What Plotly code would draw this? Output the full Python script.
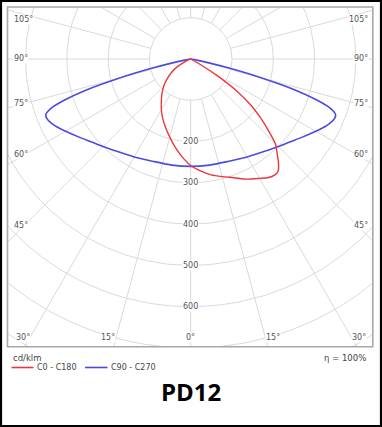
import numpy as np
import plotly.graph_objects as go

# ---------------- data (cd/klm) ----------------
# C0 - C180 plane: gamma in degrees, negative = left half, positive = right half
red_gamma = [-90, -75, -70, -65, -60, -55, -50, -45, -40, -35, -30, -25, -20, -15, -10, -5,
             0, 5, 10, 15, 20, 25, 30, 33, 36, 38, 40, 42.5, 45, 47.5, 50, 52.5, 55, 57.5, 60, 62.5, 90]
red_cd = [0, 0, 5, 16, 38, 57, 74, 92, 108, 124, 142, 160, 177, 196, 217, 238,
          258, 272, 285, 295, 306, 321, 334, 343, 347, 344, 331, 310, 290, 254, 220, 184, 140, 82, 28, 0, 0]

# C90 - C270 plane (symmetric): gamma 0..90 degrees
blue_gamma = [0, 10, 20, 30, 40, 45, 50, 55, 60, 62.5, 65, 67.5, 69, 70.5, 72, 73.5, 75, 76.5, 78, 80, 85, 90]
blue_cd = [260, 261, 264, 274, 289, 300, 313, 330, 350, 361, 371, 377, 376, 360, 320, 262, 180, 102, 45, 12, 0, 0]

ring_values = [100, 200, 300, 400, 500, 600, 700, 800]
ring_labels = [200, 300, 400, 500, 600]
spoke_angles = list(range(0, 360, 15))

left_angle_labels = ["105°", "90°", "75°", "60°", "45°", "30°"]
bottom_angle_labels = ["15°", "0°", "15°"]
series_names = ["C0 - C180", "C90 - C270"]
series_colors = ["#e8383d", "#4b4bdf"]

# ---------------- geometry ----------------
W, H = 382, 427
fx0, fx1, fy0, fy1 = 7.5, 372.8, 7.0, 346.8      # frame in pixels
cx, cy = 190.7, 59.0                              # polar centre in pixels
s = 0.4128                                        # px per cd/klm
xr = [-(cx - fx0) / s, (fx1 - cx) / s]
yr = [-(fy1 - cy) / s, (cy - fy0) / s]


def pol(g_deg, r):
    g = np.radians(np.asarray(g_deg, dtype=float))
    r = np.asarray(r, dtype=float)
    return r * np.sin(g), -r * np.cos(g)


def px(x, y):
    return x / W, 1 - y / H


fig = go.Figure()

# grid rings + spokes
gx, gy = [], []
t = np.linspace(0, 2 * np.pi, 361)
for r in ring_values:
    gx += list(r * np.cos(t)) + [None]
    gy += list(r * np.sin(t)) + [None]
for a in spoke_angles:
    x0, y0 = pol(a, 100)
    x1, y1 = pol(a, 1200)
    gx += [float(x0), float(x1), None]
    gy += [float(y0), float(y1), None]
fig.add_trace(go.Scatter(x=gx, y=gy, mode="lines", line=dict(color="#d9d9d9", width=1),
                         hoverinfo="skip", showlegend=False))

# curves
rx, ry = pol(red_gamma, red_cd)
bg = [-g for g in blue_gamma[::-1]] + blue_gamma[1:]
bc = blue_cd[::-1] + blue_cd[1:]
bx, by = pol(bg, bc)
fig.add_trace(go.Scatter(x=bx, y=by, mode="lines", name=series_names[1],
                         line=dict(color=series_colors[1], width=1.6, shape="spline", smoothing=0.6),
                         showlegend=False))
fig.add_trace(go.Scatter(x=rx, y=ry, mode="lines", name=series_names[0],
                         line=dict(color=series_colors[0], width=1.4, shape="spline", smoothing=0.7),
                         showlegend=False))

ann = []
lab_font = dict(family="DejaVu Sans", size=8, color="#555555")
for v in ring_labels:
    ann.append(dict(x=0, y=-v, xref="x", yref="y", text=str(v), showarrow=False,
                    font=lab_font, bgcolor="white", borderpad=0))

ang_y = [19.3, 59, 103.3, 155, 225, 337.3]
for lab, yy in zip(left_angle_labels, ang_y):
    xl = 12.5 if lab != "30°" else 14.5
    xrr = 368.5 if lab != "30°" else 366.5
    ann.append(dict(x=px(xl, 0)[0], y=px(0, yy)[1], xref="paper", yref="paper", text=lab,
                    showarrow=False, xanchor="left", yanchor="middle", font=lab_font,
                    bgcolor="white", borderpad=0))
    ann.append(dict(x=px(xrr, 0)[0], y=px(0, yy)[1], xref="paper", yref="paper", text=lab,
                    showarrow=False, xanchor="right", yanchor="middle", font=lab_font,
                    bgcolor="white", borderpad=0))
for lab, xx in zip(bottom_angle_labels, [108.3, 190.7, 273.3]):
    ann.append(dict(x=px(xx, 0)[0], y=px(0, 337.3)[1], xref="paper", yref="paper", text=lab,
                    showarrow=False, xanchor="center", yanchor="middle", font=lab_font,
                    bgcolor="white", borderpad=0))

leg_font = dict(family="DejaVu Sans", size=8, color="#444444")
ann.append(dict(x=px(10.5, 0)[0], y=px(0, 357.5)[1], xref="paper", yref="paper", text="cd/klm",
                showarrow=False, xanchor="left", yanchor="middle",
                font=dict(family="DejaVu Sans", size=8.5, color="#444444")))
ann.append(dict(x=px(368, 0)[0], y=px(0, 357.5)[1], xref="paper", yref="paper", text="η = 100%",
                showarrow=False, xanchor="right", yanchor="middle",
                font=dict(family="DejaVu Sans", size=8.5, color="#444444")))
ann.append(dict(x=px(35, 0)[0], y=px(0, 367.5)[1], xref="paper", yref="paper", text=series_names[0],
                showarrow=False, xanchor="left", yanchor="middle", font=leg_font))
ann.append(dict(x=px(108.5, 0)[0], y=px(0, 367.5)[1], xref="paper", yref="paper", text=series_names[1],
                showarrow=False, xanchor="left", yanchor="middle", font=leg_font))
ann.append(dict(x=px(190.5, 0)[0], y=px(0, 391)[1], xref="paper", yref="paper", text="<b>PD12</b>",
                showarrow=False, xanchor="center", yanchor="middle",
                font=dict(family="Open Sans", size=24, color="black")))

shapes = [
    dict(type="rect", xref="paper", yref="paper", x0=fx0 / W, x1=fx1 / W, y0=1 - fy1 / H, y1=1 - fy0 / H,
         line=dict(color="#a8a8a8", width=1.6), layer="above"),
    dict(type="line", xref="paper", yref="paper", x0=11.5 / W, x1=33.5 / W, y0=1 - 367.5 / H, y1=1 - 367.5 / H,
         line=dict(color=series_colors[0], width=1.6)),
    dict(type="line", xref="paper", yref="paper", x0=85 / W, x1=107.5 / W, y0=1 - 367.5 / H, y1=1 - 367.5 / H,
         line=dict(color=series_colors[1], width=1.6)),
    dict(type="rect", xref="paper", yref="paper", x0=1 / W, x1=(W - 1) / W, y0=1 / H, y1=(H - 1) / H,
         line=dict(color="black", width=2.2)),
]

fig.update_layout(
    width=W, height=H, margin=dict(l=0, r=0, t=0, b=0),
    paper_bgcolor="white", plot_bgcolor="white",
    xaxis=dict(range=xr, domain=[fx0 / W, fx1 / W], visible=False, fixedrange=True),
    yaxis=dict(range=yr, domain=[1 - fy1 / H, 1 - fy0 / H], visible=False, fixedrange=True),
    annotations=ann, shapes=shapes, showlegend=False,
)

fig.write_html("out.html", config={"displayModeBar": False},
               post_script="document.body.style.margin='0';document.body.style.overflow='hidden';")
